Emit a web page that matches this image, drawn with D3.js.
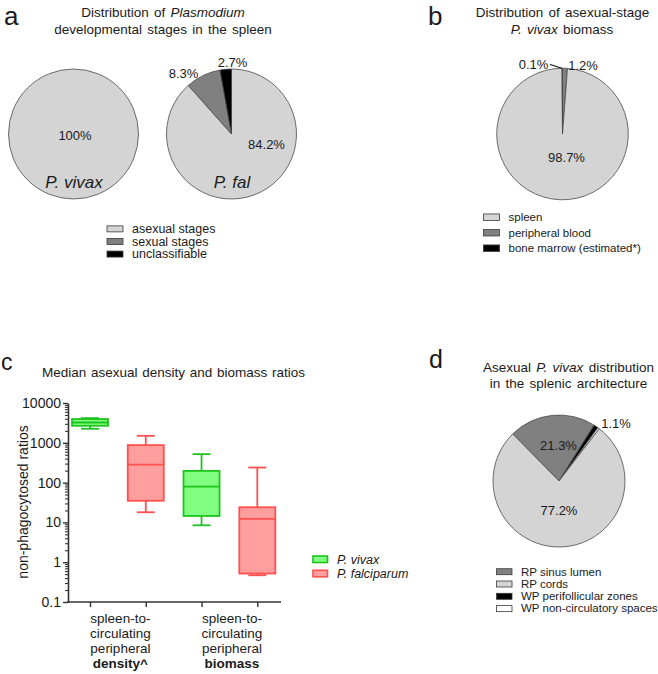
<!DOCTYPE html>
<html>
<head>
<meta charset="utf-8">
<script src="https://cdn.jsdelivr.net/npm/d3@7/dist/d3.min.js"></script>
<style>
  html, body { margin: 0; padding: 0; background: #fff; }
  svg { display: block; font-family: "Liberation Sans", Arial, Helvetica, sans-serif; }
</style>
</head>
<body>
<svg id="chart" width="658" height="674"></svg>
<script>
// ---------------- DATA ----------------
// Panel a
const stageCategories = ["asexual stages", "sexual stages", "unclassifiable"];
const vivaxStageValues = [100, 0, 0];
const falStageValues = [84.2, 8.3, 2.7];
const stageLabelsVivax = ["100%"];
const stageLabelsFal = ["84.2%", "8.3%", "2.7%"];

// Panel b
const biomassCategories = ["spleen", "peripheral blood", "bone marrow (estimated*)"];
const biomassValues = [98.7, 1.2, 0.1];
const biomassLabels = ["98.7%", "1.2%", "0.1%"];

// Panel c
const boxGroups = ["spleen-to-circulating peripheral density^", "spleen-to-circulating peripheral biomass"];
const boxSeries = ["P. vivax", "P. falciparum"];
const vivaxMin = [2250, 8.45];
const vivaxQ1 = [2680, 14.5];
const vivaxMedian = [3240, 79];
const vivaxQ3 = [3950, 197];
const vivaxMax = [4170, 519];
const falMin = [18, 0.47];
const falQ1 = [35, 0.52];
const falMedian = [284, 12.2];
const falQ3 = [875, 24];
const falMax = [1500, 239];
const yTickValues = [0.1, 1, 10, 100, 1000, 10000];
const yTickLabels = ["0.1", "1", "10", "100", "1000", "10000"];

// Panel d
const splenicCategories = ["RP sinus lumen", "RP cords", "WP perifollicular zones", "WP non-circulatory spaces"];
const splenicValues = [21.3, 77.2, 1.1, 0.4];
const splenicLabels = ["21.3%", "77.2%", "1.1%", ""];

// ---------------- STYLE ----------------
const FONT = '"Liberation Sans", Arial, Helvetica, sans-serif';
const LIGHT = "#d4d4d4", MID = "#808080", DARK = "#000000", WHITE = "#ffffff";
const PIE_STROKE = "#4a4a4a";
const GREEN_FILL = "#80ff80", GREEN_STROKE = "#1dc41d";
const RED_FILL = "#ff9e9e", RED_STROKE = "#ff5050";

const svg = d3.select("#chart");

function text(g, x, y, str, opts = {}) {
  const t = g.append("text")
    .attr("x", x).attr("y", y)
    .attr("text-anchor", opts.anchor || "middle")
    .attr("font-size", opts.size || 13)
    .attr("fill", opts.fill || "#1a1a1a")
    .text(str);
  if (opts.italic) t.attr("font-style", "italic");
  if (opts.bold) t.attr("font-weight", "bold");
  if (opts.ws) t.attr("word-spacing", opts.ws);
  return t;
}
function richText(g, x, y, parts, opts = {}) {
  const t = g.append("text")
    .attr("x", x).attr("y", y)
    .attr("text-anchor", opts.anchor || "middle")
    .attr("font-size", opts.size || 13)
    .attr("fill", opts.fill || "#1a1a1a");
  if (opts.ws) t.attr("word-spacing", opts.ws);
  parts.forEach(p => {
    const s = t.append("tspan").text(p.t);
    if (p.i) s.attr("font-style", "italic");
    if (p.b) s.attr("font-weight", "bold");
  });
  return t;
}

function drawPie(g, cx, cy, r, items, startAngle) {
  const pie = d3.pie().sort(null).value(d => d.value)
    .startAngle(startAngle).endAngle(startAngle + 2 * Math.PI);
  const arc = d3.arc().innerRadius(0).outerRadius(r);
  const arcs = pie(items);
  const gg = g.append("g").attr("transform", `translate(${cx},${cy})`);
  gg.selectAll("path").data(arcs.filter(a => a.data.value > 0)).join("path")
    .attr("d", arc)
    .attr("fill", d => d.data.color)
    .attr("stroke", PIE_STROKE)
    .attr("stroke-width", 0.8)
    .attr("stroke-linejoin", "round");
  return arcs;
}

function legend(g, x, y0, dy, cats, colors, size, boxW, boxH) {
  cats.forEach((c, i) => {
    const y = y0 + i * dy;
    g.append("rect").attr("x", x).attr("y", y - boxH / 2 - size * 0.33)
      .attr("width", boxW).attr("height", boxH)
      .attr("fill", colors[i]).attr("stroke", "#3a3a3a").attr("stroke-width", 0.8);
    text(g, x + boxW + 9, y, c, { anchor: "start", size: size });
  });
}

// ---------------- PANEL A ----------------
const ga = svg.append("g");
text(ga, 4, 25, "a", { anchor: "start", size: 26 });
richText(ga, 163, 17, [{ t: "Distribution of " }, { t: "Plasmodium", i: true }], { size: 13.5, ws: 1.5 });
text(ga, 163, 34, "developmental stages in the spleen", { size: 13.5, ws: 1.5 });

const stageColors = [LIGHT, MID, DARK];
drawPie(ga, 73.5, 134, 65, vivaxStageValues.map((v, i) => ({ value: v, color: stageColors[i] })), 0);
drawPie(ga, 231.5, 134, 65, falStageValues.map((v, i) => ({ value: v, color: stageColors[i] })), 0);
text(ga, 75, 139.5, stageLabelsVivax[0], { size: 13 });
text(ga, 74, 188, "P. vivax", { size: 17, italic: true });
text(ga, 232, 188, "P. fal", { size: 17, italic: true });
text(ga, 266.5, 148.5, stageLabelsFal[0], { size: 13 });
text(ga, 183.5, 78, stageLabelsFal[1], { size: 13 });
text(ga, 232.5, 67, stageLabelsFal[2], { size: 13 });
legend(ga, 107, 233, 12.6, stageCategories, stageColors, 12.5, 16, 6);

// ---------------- PANEL B ----------------
const gb = svg.append("g");
text(gb, 428, 25, "b", { anchor: "start", size: 26 });
text(gb, 562.5, 17, "Distribution of asexual-stage", { size: 13.5, ws: 1.5 });
richText(gb, 562, 34, [{ t: "P. vivax", i: true }, { t: " biomass" }], { size: 13.5, ws: 1.5 });
const biomassColors = [LIGHT, MID, DARK];
// drawing order around the pie (clockwise from 12 o'clock): peripheral blood, spleen, bone marrow
const biomassOrder = [1, 0, 2];
const bcx = 562.5, bcy = 134, br = 65.8;
drawPie(gb, bcx, bcy, br, biomassOrder.map(i => ({ value: biomassValues[i], color: biomassColors[i] })), 0);
text(gb, 566.5, 161.5, biomassLabels[0], { size: 13 });
text(gb, 583, 69.5, biomassLabels[1], { size: 13 });
text(gb, 533.5, 68.5, biomassLabels[2], { size: 13 });
gb.append("line").attr("x1", 550).attr("y1", 64.5).attr("x2", bcx - 0.5).attr("y2", bcy - br)
  .attr("stroke", "#111").attr("stroke-width", 1.2);
legend(gb, 483.5, 221, 15.5, biomassCategories, biomassColors, 11.5, 16, 6.5);

// ---------------- PANEL C ----------------
const gc = svg.append("g");
text(gc, 1, 370, "c", { anchor: "start", size: 23 });
text(gc, 173.5, 376.5, "Median asexual density and biomass ratios", { size: 13.5, ws: 1 });

const y = d3.scaleLog().domain([0.1, 10000]).range([602, 403]);
const boxKeys = [];
boxGroups.forEach((g, gi) => boxSeries.forEach((s, si) => boxKeys.push(gi + "|" + si)));
const x = d3.scalePoint().domain(boxKeys).range([90, 257.3]);
const axisX0 = 68, axisX1 = 281;

// y axis
const yAxis = d3.axisLeft(y).tickValues(yTickValues)
  .tickFormat((d, i) => yTickLabels[i]).tickSize(5).tickSizeOuter(0);
const yg = gc.append("g").attr("transform", `translate(${axisX0},0)`).call(yAxis);
yg.select(".domain").attr("stroke", "#333").attr("stroke-width", 1.6);
yg.selectAll(".tick line").attr("stroke", "#333").attr("stroke-width", 1.4);
yg.selectAll(".tick text").attr("font-size", 14).attr("font-family", FONT).attr("fill", "#1a1a1a").attr("x", -7);
const minorTicks = [];
for (let e = -1; e < 4; e++) for (let m = 2; m <= 9; m++) minorTicks.push(m * Math.pow(10, e));
const yMinor = d3.axisLeft(y).tickValues(minorTicks).tickFormat("").tickSize(3).tickSizeOuter(0);
const ymg = gc.append("g").attr("transform", `translate(${axisX0},0)`).call(yMinor);
ymg.select(".domain").remove();
ymg.selectAll(".tick line").attr("stroke", "#333").attr("stroke-width", 1.1);

// x axis
gc.append("line").attr("x1", axisX0 - 0.8).attr("x2", axisX1).attr("y1", y(0.1)).attr("y2", y(0.1))
  .attr("stroke", "#333").attr("stroke-width", 1.6);
const xAxis = d3.axisBottom(x).tickSize(5).tickFormat("").tickSizeOuter(0);
const xg = gc.append("g").attr("transform", `translate(0,${y(0.1)})`).call(xAxis);
xg.select(".domain").remove();
xg.selectAll(".tick line").attr("stroke", "#333").attr("stroke-width", 1.4);

// y title
gc.append("text").attr("transform", `translate(28,502) rotate(-90)`)
  .attr("text-anchor", "middle").attr("font-size", 14).attr("fill", "#1a1a1a")
  .text("non-phagocytosed ratios");

// x group labels
const groupLines = [
  ["spleen-to-", "circulating", "peripheral", "density^"],
  ["spleen-to-", "circulating", "peripheral", "biomass"]
];
groupLines.forEach((lines, gi) => {
  const cx = (x(gi + "|0") + x(gi + "|1")) / 2 + 2.5;
  lines.forEach((ln, li) => {
    text(gc, cx, 623 + li * 15, ln, { size: 13.5, bold: li === 3 });
  });
});

// boxes
const boxW = 36, capW = 18;
const seriesData = [
  { min: vivaxMin, q1: vivaxQ1, med: vivaxMedian, q3: vivaxQ3, max: vivaxMax, fill: GREEN_FILL, stroke: GREEN_STROKE },
  { min: falMin, q1: falQ1, med: falMedian, q3: falQ3, max: falMax, fill: RED_FILL, stroke: RED_STROKE }
];
boxGroups.forEach((g, gi) => {
  seriesData.forEach((s, si) => {
    const cx = x(gi + "|" + si);
    const bg = gc.append("g").attr("stroke", s.stroke).attr("stroke-width", 1.8).attr("fill", "none");
    bg.append("line").attr("x1", cx).attr("x2", cx).attr("y1", y(s.max[gi])).attr("y2", y(s.q3[gi]));
    bg.append("line").attr("x1", cx).attr("x2", cx).attr("y1", y(s.q1[gi])).attr("y2", y(s.min[gi]));
    bg.append("line").attr("x1", cx - capW / 2).attr("x2", cx + capW / 2).attr("y1", y(s.max[gi])).attr("y2", y(s.max[gi]));
    bg.append("line").attr("x1", cx - capW / 2).attr("x2", cx + capW / 2).attr("y1", y(s.min[gi])).attr("y2", y(s.min[gi]));
    bg.append("rect").attr("x", cx - boxW / 2).attr("width", boxW)
      .attr("y", y(s.q3[gi])).attr("height", y(s.q1[gi]) - y(s.q3[gi]))
      .attr("fill", s.fill);
    bg.append("line").attr("x1", cx - boxW / 2).attr("x2", cx + boxW / 2).attr("y1", y(s.med[gi])).attr("y2", y(s.med[gi]));
  });
});

// legend c
[[GREEN_FILL, GREEN_STROKE], [RED_FILL, RED_STROKE]].forEach((c, i) => {
  const yy = 556 + i * 14.3;
  gc.append("rect").attr("x", 313).attr("y", yy).attr("width", 14.5).attr("height", 6.5)
    .attr("fill", c[0]).attr("stroke", c[1]).attr("stroke-width", 1.6);
  text(gc, 337, yy + 7.5, boxSeries[i], { anchor: "start", size: 12.5, italic: true });
});

// ---------------- PANEL D ----------------
const gd = svg.append("g");
text(gd, 429, 368, "d", { anchor: "start", size: 25 });
richText(gd, 568.5, 371.5, [{ t: "Asexual " }, { t: "P. vivax", i: true }, { t: " distribution" }], { size: 13.5, ws: 1.5 });
text(gd, 568.5, 388, "in the splenic architecture", { size: 13.5, ws: 1.5 });
const splenicColors = [MID, LIGHT, DARK, WHITE];
// clockwise drawing order starting at the left edge of the sinus-lumen slice
const splenicOrder = [0, 2, 3, 1];
drawPie(gd, 559, 481, 66, splenicOrder.map(i => ({ value: splenicValues[i], color: splenicColors[i] })), -44.5 * Math.PI / 180);
text(gd, 558.5, 449.5, splenicLabels[0], { size: 13 });
text(gd, 559, 514.5, splenicLabels[1], { size: 13 });
text(gd, 616, 428, splenicLabels[2], { size: 13 });
legend(gd, 496.5, 575.5, 12.3, splenicCategories, splenicColors, 11.5, 15.5, 6);
</script>
</body>
</html>
